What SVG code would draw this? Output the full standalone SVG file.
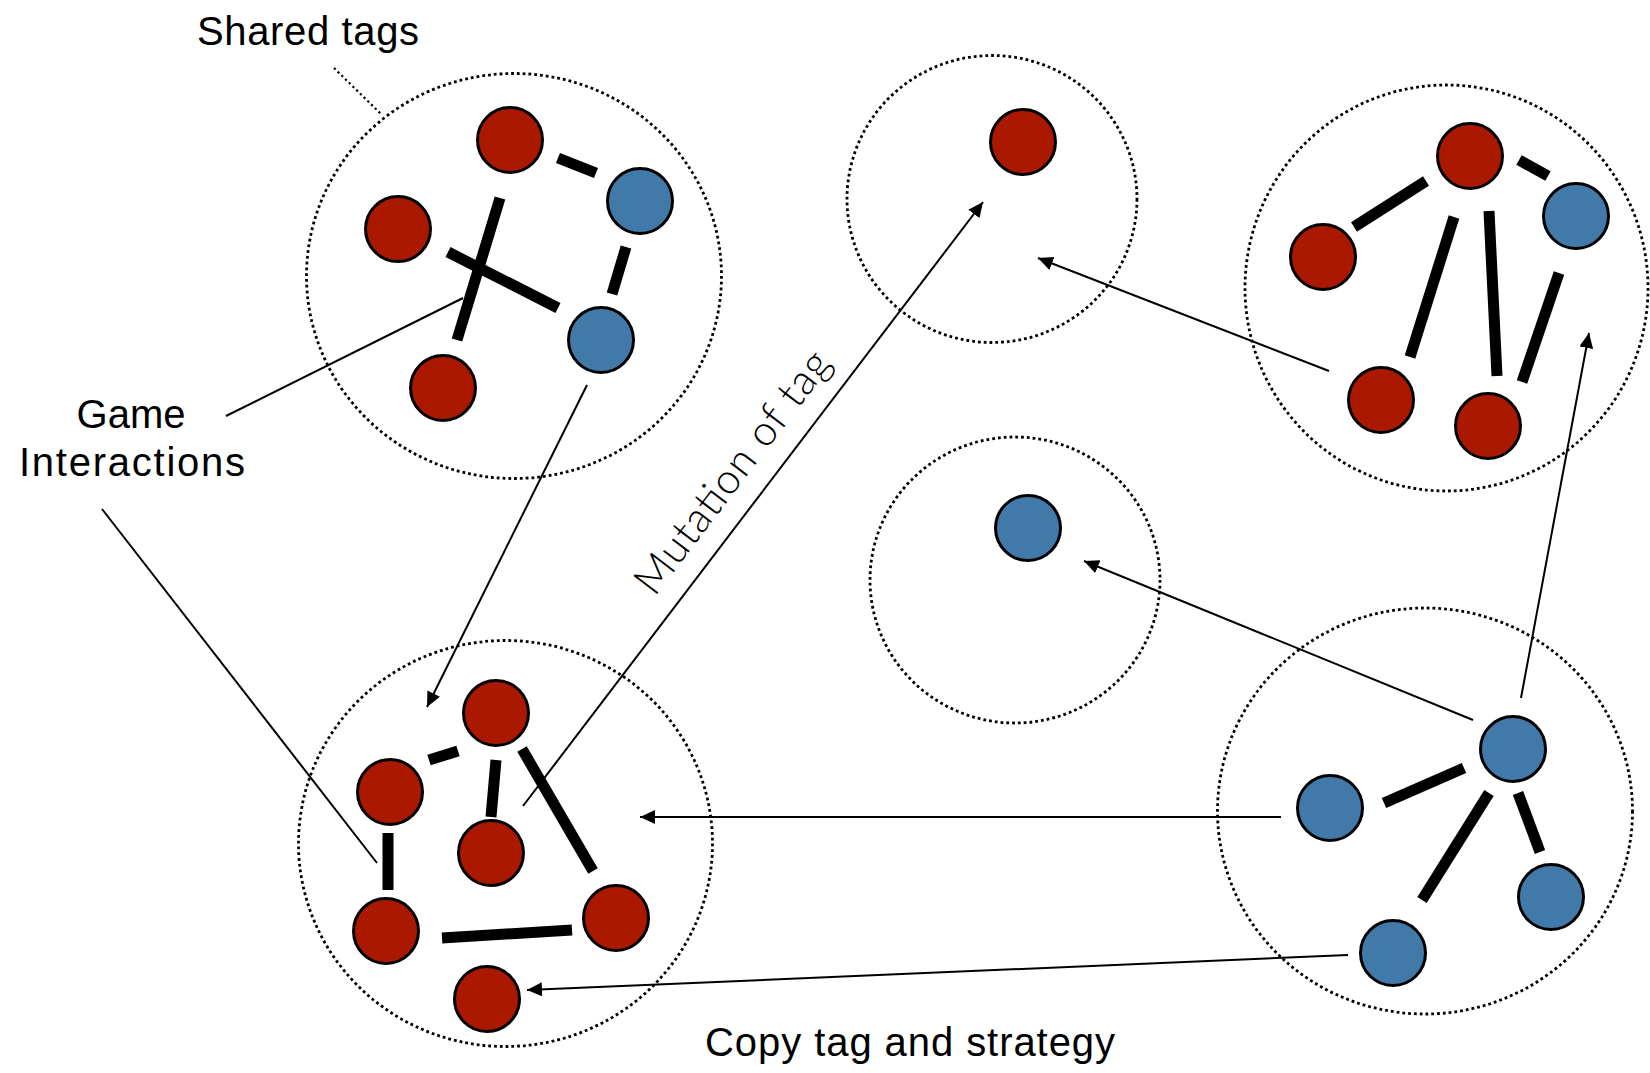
<svg xmlns="http://www.w3.org/2000/svg" width="1650" height="1073" viewBox="0 0 1650 1073">
<style>
.grp{fill:none;stroke:#000;stroke-width:2.8;stroke-dasharray:2.8 3}
.lead{fill:none;stroke:#000;stroke-width:2.2;stroke-dasharray:2.2 3}
.r{fill:#aa1800;stroke:#000;stroke-width:3}
.b{fill:#4179a9;stroke:#000;stroke-width:3}
.e{stroke:#000;stroke-width:11;stroke-linecap:butt}
.c{stroke:#000;stroke-width:2;fill:none}
.a{stroke:#000;stroke-width:2;fill:none;marker-end:url(#ah)}
.t{font-family:"Liberation Sans",Arial,sans-serif;font-size:40px;fill:#000}
.m{font-family:Lato,"Open Sans",sans-serif;font-weight:300;font-size:42px;fill:#000}
</style>
<defs>
<marker id="ah" markerUnits="userSpaceOnUse" markerWidth="16" markerHeight="14" refX="15" refY="7" orient="auto">
<path d="M0,0 L15,7 L0,14 z" fill="#000"/>
</marker>
</defs>
<rect width="1650" height="1073" fill="#fff"/>

<g id="cluster-top-left">
<ellipse class="grp" cx="514" cy="276" rx="207.5" ry="202.5"/>
<line class="e" x1="558" y1="158" x2="596" y2="173"/>
<line class="e" x1="626" y1="247" x2="612" y2="294"/>
<line class="e" x1="500" y1="198" x2="457" y2="340"/>
<line class="e" x1="448" y1="252" x2="558" y2="308"/>
<circle id="tl-r1" class="r" cx="510" cy="140" r="32.5"/>
<circle id="tl-b1" class="b" cx="640" cy="201" r="32.5"/>
<circle id="tl-r2" class="r" cx="398" cy="229" r="32.5"/>
<circle id="tl-b2" class="b" cx="601" cy="340" r="32.5"/>
<circle id="tl-r3" class="r" cx="443" cy="388" r="32.5"/>
</g>

<g id="cluster-top-middle">
<ellipse class="grp" cx="992" cy="199" rx="145" ry="143.5"/>
<circle id="tm-r1" class="r" cx="1023" cy="142" r="32.5"/>
</g>

<g id="cluster-top-right">
<ellipse class="grp" cx="1446.5" cy="288" rx="201.5" ry="203"/>
<line class="e" x1="1519" y1="160" x2="1548" y2="176"/>
<line class="e" x1="1426" y1="181" x2="1354" y2="227"/>
<line class="e" x1="1454" y1="217" x2="1410" y2="357"/>
<line class="e" x1="1489" y1="211" x2="1497" y2="376"/>
<line class="e" x1="1559" y1="273" x2="1522" y2="382"/>
<circle id="tr-r1" class="r" cx="1470" cy="156" r="32.5"/>
<circle id="tr-b1" class="b" cx="1576" cy="216" r="32.5"/>
<circle id="tr-r2" class="r" cx="1323" cy="257" r="32.5"/>
<circle id="tr-r3" class="r" cx="1381" cy="400" r="32.5"/>
<circle id="tr-r4" class="r" cx="1488" cy="426" r="32.5"/>
</g>

<g id="cluster-middle">
<ellipse class="grp" cx="1015" cy="580" rx="145" ry="143"/>
<circle id="m-b1" class="b" cx="1028" cy="528" r="32.5"/>
</g>

<g id="cluster-bottom-left">
<ellipse class="grp" cx="505.5" cy="843.5" rx="207" ry="203"/>
<line class="e" x1="458" y1="751" x2="429" y2="760"/>
<line class="e" x1="496" y1="760" x2="491" y2="817"/>
<line class="e" x1="522" y1="749" x2="593" y2="871"/>
<line class="e" x1="388" y1="833" x2="388" y2="890"/>
<line class="e" x1="442" y1="938" x2="572" y2="930"/>
<circle id="bl-r1" class="r" cx="496" cy="713" r="32.5"/>
<circle id="bl-r2" class="r" cx="390" cy="792" r="32.5"/>
<circle id="bl-r3" class="r" cx="491" cy="853" r="32.5"/>
<circle id="bl-r4" class="r" cx="386" cy="931" r="32.5"/>
<circle id="bl-r5" class="r" cx="616" cy="918" r="32.5"/>
<circle id="bl-r6" class="r" cx="487" cy="999" r="32.5"/>
</g>

<g id="cluster-bottom-right">
<ellipse class="grp" cx="1425" cy="811" rx="207.5" ry="203"/>
<line class="e" x1="1464" y1="768" x2="1384" y2="803"/>
<line class="e" x1="1489" y1="793" x2="1422" y2="900"/>
<line class="e" x1="1518" y1="793" x2="1540" y2="852"/>
<circle id="br-b1" class="b" cx="1513" cy="749" r="32.5"/>
<circle id="br-b2" class="b" cx="1330" cy="808" r="32.5"/>
<circle id="br-b3" class="b" cx="1551" cy="897" r="32.5"/>
<circle id="br-b4" class="b" cx="1393" cy="953" r="32.5"/>
</g>

<g id="connectors">
<line class="lead" x1="334" y1="68" x2="381" y2="114"/>
<line class="c" x1="226" y1="416" x2="463" y2="298"/>
<line class="c" x1="102" y1="509" x2="377" y2="863"/>
<line class="a" x1="587" y1="385" x2="427" y2="707"/>
<line class="a" x1="523" y1="806" x2="983" y2="202"/>
<line class="a" x1="1329" y1="371" x2="1038" y2="258"/>
<line class="a" x1="1521" y1="698" x2="1589" y2="333"/>
<line class="a" x1="1473" y1="720" x2="1084" y2="561"/>
<line class="a" x1="1281" y1="817" x2="640" y2="817"/>
<line class="a" x1="1348" y1="955" x2="527" y2="990"/>
</g>

<g id="labels">
<text class="t" x="197" y="45" textLength="222">Shared tags</text>
<text class="t" x="131" y="428" text-anchor="middle" font-size="41">Game</text>
<text class="t" x="132" y="476" text-anchor="middle" font-size="41" textLength="226">Interactions</text>
<text class="t" x="705" y="1056" font-size="41" textLength="410">Copy tag and strategy</text>
<text class="m" transform="translate(743.5,480.5) rotate(-52.7)" text-anchor="middle" textLength="294">Mutation of tag</text>
</g>
</svg>
